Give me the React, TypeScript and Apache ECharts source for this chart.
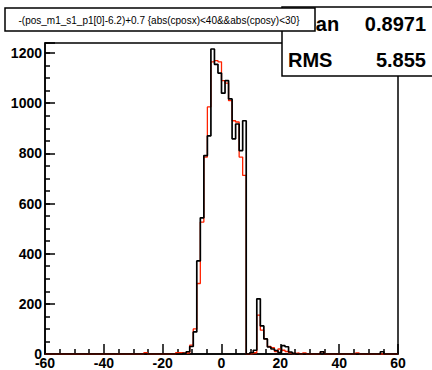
import React, { useEffect, useRef } from "react";
import * as echarts from "echarts";

// Histogram: 100 bins from -60 to 60 (bin width 1.2)
const X_MIN = -60;
const X_MAX = 60;
const N_BINS = 100;

const blackCounts: number[] = [
  0, 0, 0, 0, 0, 0, 0, 0, 0, 0,
  0, 0, 0, 0, 0, 0, 0, 0, 0, 0,
  0, 0, 0, 0, 0, 0, 0, 0, 0, 0,
  0, 0, 0, 0, 0, 0, 0, 0, 0, 3,
  9, 30, 88, 371, 543, 791, 870, 1216, 1155, 1120,
  1040, 1090, 1017, 858, 917, 811, 930, 0, 5, 15,
  220, 112, 60, 28, 20, 14, 6, 33, 29, 8,
  3, 0, 0, 0, 0, 0, 0, 0, 9, 0,
  0, 0, 0, 0, 0, 0, 0, 0, 0, 0,
  0, 0, 0, 0, 0, 9, 0, 0, 0, 0,
];

const redCounts: number[] = [
  0, 0, 0, 0, 0, 0, 0, 0, 0, 0,
  0, 0, 0, 0, 0, 0, 0, 0, 0, 0,
  0, 0, 0, 0, 0, 0, 0, 0, 5, 0,
  0, 0, 0, 0, 0, 0, 0, 5, 5, 3,
  5, 35, 100, 281, 526, 785, 985, 1165, 1170, 1165,
  1090, 1080, 1010, 930, 925, 785, 712, 0, 2, 5,
  155, 95, 60, 30, 25, 10, 20, 15, 10, 5,
  2, 4, 0, 4, 0, 0, 0, 0, 9, 0,
  0, 0, 0, 0, 0, 0, 0, 0, 4, 0,
  0, 0, 0, 0, 0, 0, 0, 0, 0, 0,
];

const titleText = "-(pos_m1_s1_p1[0]-6.2)+0.7 {abs(cposx)<40&&abs(cposy)<30}";
const statNames = ["Mean", "RMS"];
const statValues = ["0.8971", "5.855"];

function stepPoints(counts: number[]): number[][] {
  const w = (X_MAX - X_MIN) / N_BINS;
  const pts: number[][] = [[X_MIN, 0]];
  counts.forEach((c, k) => {
    const x0 = +(X_MIN + k * w).toFixed(4);
    const x1 = +(X_MIN + (k + 1) * w).toFixed(4);
    pts.push([x0, c], [x1, c]);
  });
  pts.push([X_MAX, 0]);
  return pts;
}

const FONT = '"Liberation Sans", Arial, sans-serif';

export default function App() {
  const ref = useRef<HTMLDivElement>(null);
  useEffect(() => {
    if (!ref.current) return;
    const chart = echarts.init(ref.current, undefined, { renderer: "svg" });
    const labelStyle = {
      color: "#000",
      fontWeight: "bold" as const,
      fontSize: 14,
      fontFamily: FONT,
    };
    chart.setOption({
      animation: false,
      backgroundColor: "#fff",
      grid: {
        left: 45,
        right: 34,
        top: 43,
        bottom: 16,
        show: true,
        borderColor: "#000",
        borderWidth: 1.5,
        backgroundColor: "transparent",
      },
      xAxis: {
        type: "value",
        min: X_MIN,
        max: X_MAX,
        interval: 20,
        axisLine: { show: true, onZero: false, lineStyle: { color: "#000", width: 1.5 } },
        axisTick: { show: true, inside: true, length: 10, lineStyle: { color: "#000", width: 1.5 } },
        minorTick: { show: true, splitNumber: 4, length: 5, lineStyle: { color: "#000", width: 1.5 } },
        splitLine: { show: false },
        axisLabel: { ...labelStyle, margin: 2 },
      },
      yAxis: [
        {
          type: "value",
          position: "left",
          min: 0,
          max: 1240,
          interval: 200,
          axisLine: { show: true, onZero: false, lineStyle: { color: "#000", width: 1.5 } },
          axisTick: { show: true, inside: true, length: 10, lineStyle: { color: "#000", width: 1.5 } },
          splitLine: { show: false },
          axisLabel: {
            ...labelStyle,
            margin: 3,
            formatter: (v: number) => (v % 200 === 0 ? String(v) : ""),
          },
        },
        {
          type: "value",
          position: "left",
          offset: 0,
          min: 0,
          max: 1240,
          interval: 50,
          axisLine: { show: false, onZero: false },
          axisTick: { show: true, inside: true, length: 5, lineStyle: { color: "#000", width: 1.5 } },
          splitLine: { show: false },
          axisLabel: { show: false },
        },
      ],
      series: [
        {
          type: "line",
          data: stepPoints(redCounts),
          showSymbol: false,
          symbol: "none",
          lineStyle: { color: "#ff2200", width: 1.3 },
          silent: true,
          z: 2,
        },
        {
          type: "line",
          data: stepPoints(blackCounts),
          showSymbol: false,
          symbol: "none",
          lineStyle: { color: "#000", width: 1.7 },
          silent: true,
          z: 3,
        },
      ],
      graphic: [
        {
          type: "rect",
          z: 100,
          shape: { x: 282, y: 7, width: 160, height: 69 },
          style: { fill: "#fff", stroke: "#000", lineWidth: 1.5 },
        },
        {
          type: "text",
          z: 101,
          style: { text: statNames[0], x: 288, y: 24, fill: "#000", font: `bold 20px ${FONT}`, align: "left", verticalAlign: "middle" },
        },
        {
          type: "text",
          z: 101,
          style: { text: statValues[0], x: 426, y: 24, fill: "#000", font: `bold 20px ${FONT}`, align: "right", verticalAlign: "middle" },
        },
        {
          type: "text",
          z: 101,
          style: { text: statNames[1], x: 288, y: 60, fill: "#000", font: `bold 20px ${FONT}`, align: "left", verticalAlign: "middle" },
        },
        {
          type: "text",
          z: 101,
          style: { text: statValues[1], x: 426, y: 60, fill: "#000", font: `bold 20px ${FONT}`, align: "right", verticalAlign: "middle" },
        },
        {
          type: "rect",
          z: 110,
          shape: { x: 5, y: 8, width: 310, height: 23 },
          style: { fill: "#fff", stroke: "#000", lineWidth: 1.5 },
        },
        {
          type: "text",
          z: 111,
          style: { text: titleText, x: 159, y: 20, fill: "#000", font: `10px ${FONT}`, align: "center", verticalAlign: "middle" },
        },
      ],
    });
    return () => chart.dispose();
  }, []);
  return (
    <div
      ref={ref}
      style={{ position: "fixed", left: 0, top: 0, width: 432, height: 370 }}
    />
  );
}
